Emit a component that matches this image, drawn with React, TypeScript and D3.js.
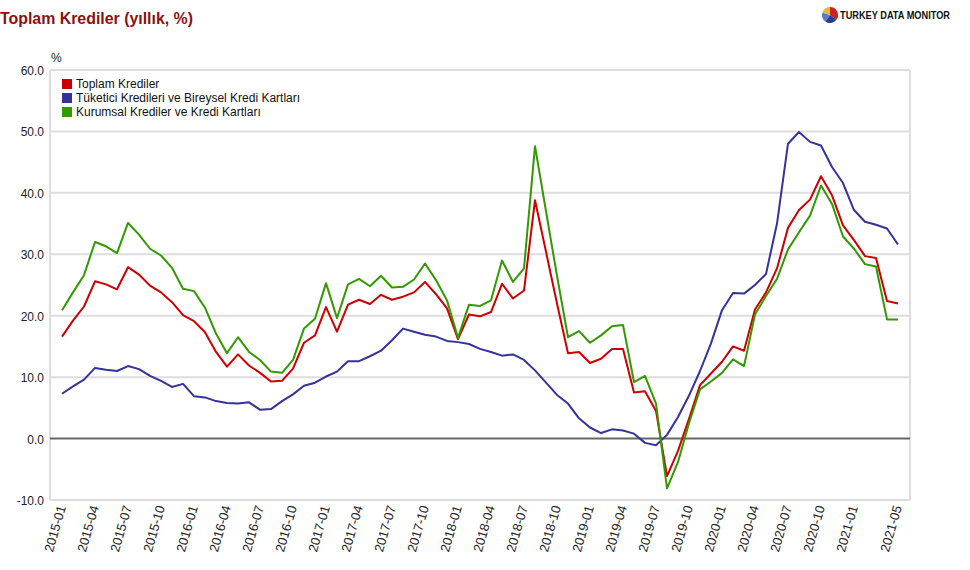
import React from "react";
import * as d3 from "d3";

const seriesNames = [
  "Toplam Krediler",
  "Tüketici Kredileri ve Bireysel Kredi Kartları",
  "Kurumsal Krediler ve Kredi Kartları",
];
const seriesColors = ["#cc0000", "#333399", "#339900"];

const months: string[] = d3
  .timeMonth.range(new Date(2015, 0, 1), new Date(2021, 5, 1))
  .map((d) => d3.timeFormat("%Y-%m")(d));

const toplam = [
  16.6, 19.2, 21.5, 25.6, 25.1, 24.3, 27.9, 26.7, 24.9, 23.8, 22.2, 20.1, 19.1, 17.3, 14.1, 11.7, 13.7, 11.9, 10.7, 9.3,
  9.4, 11.4, 15.6, 16.8, 21.4, 17.4, 21.8, 22.6, 21.9, 23.4, 22.6, 23.1, 23.8, 25.5, 23.5, 21.2, 16.2, 20.2, 19.9, 20.6,
  25.2, 22.8, 24.1, 38.8, 30.4, 22.0, 13.9, 14.1, 12.3, 13.0, 14.6, 14.6, 7.5, 7.7, 4.5, -6.1, -2.0, 3.2, 8.7, 10.6,
  12.5, 15.0, 14.3, 21.0, 23.8, 27.7, 34.3, 37.2, 38.9, 42.7, 39.6, 34.7, 32.3, 29.7, 29.4, 22.4, 22.0,
];
const tuketici = [
  7.3, 8.5, 9.6, 11.5, 11.2, 11.0, 11.8, 11.3, 10.2, 9.4, 8.4, 8.9, 6.9, 6.7, 6.1, 5.8, 5.7, 5.9, 4.7, 4.8,
  6.1, 7.2, 8.6, 9.1, 10.1, 10.9, 12.6, 12.6, 13.4, 14.3, 16.0, 17.9, 17.4, 16.9, 16.6, 15.9, 15.7, 15.4, 14.6, 14.1,
  13.5, 13.7, 12.8, 11.1, 9.1, 7.1, 5.7, 3.3, 1.8, 0.9, 1.5, 1.3, 0.8, -0.7, -1.1, 0.6, 3.5, 7.0, 11.0, 15.5,
  20.9, 23.7, 23.6, 25.0, 26.8, 35.0, 48.0, 49.9, 48.3, 47.7, 44.2, 41.6, 37.2, 35.3, 34.8, 34.2, 31.6,
];
const kurumsal = [
  20.9, 23.8, 26.6, 32.0, 31.3, 30.2, 35.1, 33.2, 30.9, 29.8, 27.8, 24.4, 24.0, 21.3, 17.1, 13.9, 16.5, 14.1, 12.8, 10.9,
  10.7, 12.8, 17.9, 19.5, 25.3, 19.6, 25.1, 26.0, 24.8, 26.5, 24.6, 24.7, 25.9, 28.5, 25.8, 22.5, 16.4, 21.8, 21.6, 22.5,
  29.0, 25.5, 27.7, 47.6, 37.0, 26.5, 16.5, 17.5, 15.6, 16.8, 18.3, 18.5, 9.2, 10.2, 5.7, -8.1, -3.8, 2.5, 8.0, 9.3,
  10.7, 12.9, 11.8, 20.2, 23.2, 26.0, 30.8, 33.6, 36.3, 41.2, 38.2, 32.9, 30.9, 28.4, 28.0, 19.4, 19.4,
];
const allSeries = [toplam, tuketici, kurumsal];

const xTickLabels = [
  "2015-01", "2015-04", "2015-07", "2015-10", "2016-01", "2016-04", "2016-07", "2016-10",
  "2017-01", "2017-04", "2017-07", "2017-10", "2018-01", "2018-04", "2018-07", "2018-10",
  "2019-01", "2019-04", "2019-07", "2019-10", "2020-01", "2020-04", "2020-07", "2020-10",
  "2021-01", "2021-05",
];
const yTicks = [60, 50, 40, 30, 20, 10, 0, -10];

const FONT = "'Liberation Sans', Arial, sans-serif";

export default function App() {
  const W = 970, H = 570;
  const plotLeft = 50, plotRight = 910, plotTop = 70, plotBottom = 500;
  const x = d3.scalePoint<string>().domain(months).range([62, 898]);
  const y = d3.scaleLinear().domain([-10, 60]).range([plotBottom, plotTop]);
  const line = d3
    .line<number>()
    .x((_, i) => x(months[i]) as number)
    .y((d) => y(d));

  const pie = d3.pie<number>().sort(null)([35, 25, 20, 20]);
  const arc = d3.arc<d3.PieArcDatum<number>>().innerRadius(0).outerRadius(8);
  const pieColors = ["#cc2222", "#2a3f8f", "#5a78c8", "#e8b830"];

  return (
    <svg
      width={W}
      height={H}
      style={{ position: "absolute", left: 0, top: 0, background: "#fff" }}
      fontFamily={FONT}
    >
      <rect x={0} y={0} width={W} height={H} fill="#fff" />
      <text x={0} y={24} fontSize={17} fontWeight="bold" fill="#8b1111" textLength={193} lengthAdjust="spacingAndGlyphs">
        Toplam Krediler (yıllık, %)
      </text>
      <g transform="translate(830,15)">
        {pie.map((p, i) => (
          <path key={i} d={arc(p) as string} fill={pieColors[i]} />
        ))}
      </g>
      <text x={840} y={19} fontSize={10} fontWeight="bold" fill="#111" textLength={110} lengthAdjust="spacingAndGlyphs">
        TURKEY DATA MONITOR
      </text>

      <text x={51} y={62} fontSize={12} fill="#222">%</text>

      {yTicks.map((t) => (
        <g key={t}>
          {t !== 0 && (
            <line x1={plotLeft} x2={plotRight} y1={y(t)} y2={y(t)} stroke="#dddddd" strokeWidth={2} />
          )}
          <text x={44} y={y(t) + 5} fontSize={12} textAnchor="end" fill="#222">
            {t.toFixed(1)}
          </text>
        </g>
      ))}
      <line x1={plotLeft} x2={plotLeft} y1={plotTop} y2={plotBottom} stroke="#dddddd" strokeWidth={2} />
      <line x1={plotRight} x2={plotRight} y1={plotTop} y2={plotBottom} stroke="#dddddd" strokeWidth={2} />
      <line x1={plotLeft} x2={plotRight} y1={y(0)} y2={y(0)} stroke="#666666" strokeWidth={2} />

      {allSeries.map((s, i) => (
        <path key={i} d={line(s) as string} fill="none" stroke={seriesColors[i]} strokeWidth={2} strokeLinejoin="round" />
      ))}

      {seriesNames.map((n, i) => (
        <g key={n}>
          <rect x={62} y={79 + i * 14} width={10} height={10} fill={seriesColors[i]} />
          <text x={76} y={88 + i * 14} fontSize={12} fill="#111">{n}</text>
        </g>
      ))}

      {xTickLabels.map((lab) => {
        const px = x(lab) as number;
        return (
          <text
            key={lab}
            transform={`translate(${px + 4},${507}) rotate(-74)`}
            fontSize={13}
            textAnchor="end"
            fill="#222"
          >
            {lab}
          </text>
        );
      })}
    </svg>
  );
}
